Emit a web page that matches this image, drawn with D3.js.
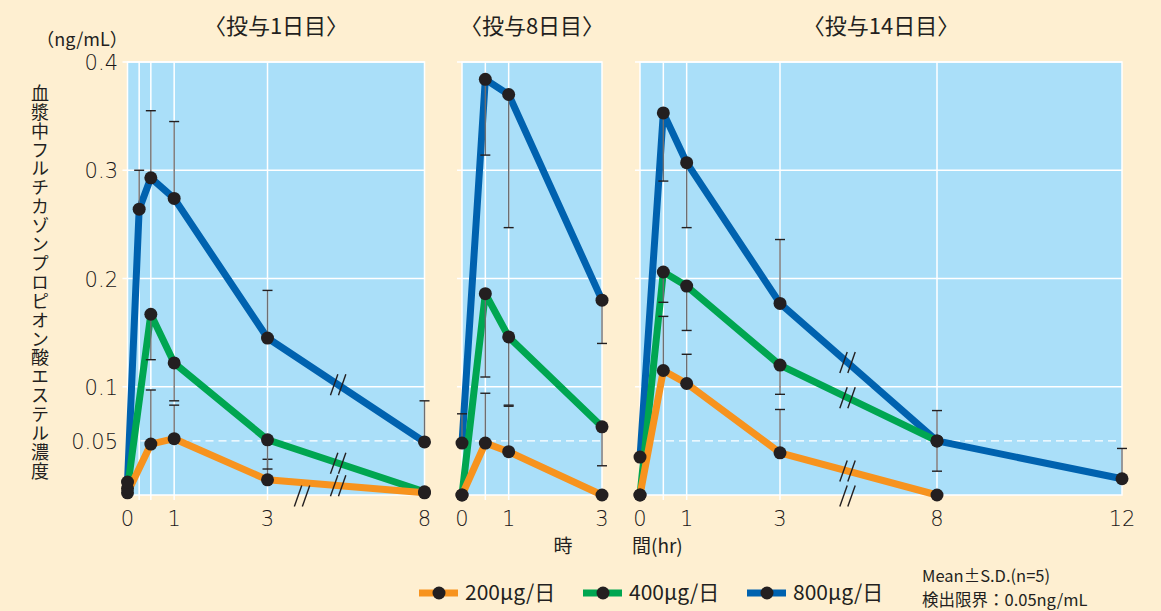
<!DOCTYPE html>
<html>
<head>
<meta charset="utf-8">
<script src="https://cdn.jsdelivr.net/npm/d3@7"></script>
<style>
  body { margin: 0; background: #feefd1; }
  svg { display: block; }
  text { font-family: "Noto Sans CJK JP", "Noto Sans", sans-serif; fill: #231f20; }
  .num { font-family: "DejaVu Sans", sans-serif; font-weight: 300; fill: #1a1718; }
</style>
</head>
<body>
<div id="chart"></div>
<script>
// ---- data ----
const dayTitles = ['〈投与1日目〉', '〈投与8日目〉', '〈投与14日目〉'];
const doseLabels = ['200μg/日', '400μg/日', '800μg/日'];
const yTicks = [0.1, 0.2, 0.3, 0.4];
const yTickLabels = ['0.05', '0.1', '0.2', '0.3', '0.4'];
const yTickLabelValues = [0.05, 0.1, 0.2, 0.3, 0.4];
const lodValue = 0.05;

// day 1
const d1Time = [0, 0.5, 1, 3, 8];
const d1Time800 = [0, 0.25, 0.5, 1, 3, 8];
const d1Mean200 = [0.002, 0.047, 0.052, 0.014, 0.002];
const d1Sd200 = [null, 0.050, 0.031, 0.019, null];
const d1Side200 = ['', 'u', 'u', 'u', ''];
const d1Mean400 = [0.006, 0.167, 0.122, 0.051, 0.003];
const d1Sd400 = [null, 0.042, 0.035, 0.027, null];
const d1Side400 = ['', 'd', 'd', 'd', ''];
const d1Mean800 = [0.012, 0.264, 0.293, 0.274, 0.145, 0.049];
const d1Sd800 = [null, 0.036, 0.062, 0.071, 0.044, 0.038];
const d1Side800 = ['', 'u', 'u', 'u', 'u', 'u'];

// day 8
const d8Time = [0, 0.5, 1, 3];
const d8Mean200 = [0, 0.048, 0.040, 0];
const d8Sd200 = [null, 0.046, 0.042, null];
const d8Side200 = ['', 'u', 'u', ''];
const d8Mean400 = [0, 0.186, 0.146, 0.063];
const d8Sd400 = [null, 0.077, 0.063, 0.036];
const d8Side400 = ['', 'd', 'd', 'd'];
const d8Mean800 = [0.048, 0.384, 0.370, 0.180];
const d8Sd800 = [0.027, 0.070, 0.123, 0.040];
const d8Side800 = ['u', 'd', 'd', 'd'];

// day 14
const d14Time = [0, 0.5, 1, 3, 8];
const d14Time800 = [0, 0.5, 1, 3, 8, 12];
const d14Mean200 = [0, 0.115, 0.103, 0.039, 0];
const d14Sd200 = [null, 0.050, 0.027, 0.040, null];
const d14Side200 = ['', 'u', 'u', 'u', ''];
const d14Mean400 = [0, 0.206, 0.193, 0.120, 0.050];
const d14Sd400 = [null, 0.028, 0.041, 0.027, null];
const d14Side400 = ['', 'd', 'd', 'd', ''];
const d14Mean800 = [0.035, 0.353, 0.307, 0.177, 0.050, 0.015];
const d14Sd800 = [null, 0.063, 0.060, 0.059, 0.028, 0.028];
const d14Side800 = ['', 'd', 'd', 'u', 'b', 'u'];

const doseColors = ['#f7931e', '#00a651', '#0062af'];

// ---- layout ----
const W = 1161, H = 611;
const svg = d3.select('#chart').append('svg').attr('width', W).attr('height', H);
svg.append('rect').attr('width', W).attr('height', H).attr('fill', '#feefd1');

const y = d3.scaleLinear().domain([0, 0.4]).range([495, 62]);

// time axis is linear up to 3 h, compressed between 3 and 8 h (axis break)
const hourOffset = v => v <= 3 ? v * 46.67 : v <= 8 ? 140 + (v - 3) * 31.4 : 297 + (v - 8) * 46.25;

const panels = [
  { title: dayTitles[0], domain: [0, 3, 8], left: 127.5, grid: [0.25, 0.5, 1, 3], ticks: [0, 1, 3, 8],
    series: [
      { t: d1Time, m: d1Mean200, sd: d1Sd200, side: d1Side200 },
      { t: d1Time, m: d1Mean400, sd: d1Sd400, side: d1Side400 },
      { t: d1Time800, m: d1Mean800, sd: d1Sd800, side: d1Side800 }],
    lineBreak: 5.25, axisBreak: 4.1 },
  { title: dayTitles[1], domain: [0, 3], left: 462, grid: [0.5, 1], ticks: [0, 1, 3],
    series: [
      { t: d8Time, m: d8Mean200, sd: d8Sd200, side: d8Side200 },
      { t: d8Time, m: d8Mean400, sd: d8Sd400, side: d8Side400 },
      { t: d8Time, m: d8Mean800, sd: d8Sd800, side: d8Side800 }] },
  { title: dayTitles[2], domain: [0, 3, 8, 12], left: 640, grid: [0.5, 1, 3, 8], ticks: [0, 1, 3, 8, 12],
    series: [
      { t: d14Time, m: d14Mean200, sd: d14Sd200, side: d14Side200 },
      { t: d14Time, m: d14Mean400, sd: d14Sd400, side: d14Side400 },
      { t: d14Time800, m: d14Mean800, sd: d14Sd800, side: d14Side800 }],
    lineBreak: 5.15, axisBreak: 5.15 }
];

const slash = (g, cx, cy) => {
  [-4, 4].forEach(dx => {
    g.append('line')
      .attr('x1', cx + dx - 3.7).attr('y1', cy + 10.5)
      .attr('x2', cx + dx + 3.7).attr('y2', cy - 10.5)
      .attr('stroke', '#231f20').attr('stroke-width', 1.4);
  });
};

panels.forEach(p => {
  const x = d3.scaleLinear().domain(p.domain).range(p.domain.map(v => p.left + hourOffset(v)));
  const x0 = x(0), x1 = x(p.domain[p.domain.length - 1]);
  const g = svg.append('g');

  g.append('rect')
    .attr('x', x0).attr('y', y(0.4))
    .attr('width', x1 - x0).attr('height', y(0) - y(0.4))
    .attr('fill', '#aadff9');

  // horizontal grid + small ticks to the left
  g.selectAll('.hg').data(yTicks).enter().append('line')
    .attr('x1', x0 - 5).attr('x2', x1)
    .attr('y1', d => y(d)).attr('y2', d => y(d))
    .attr('stroke', '#fff').attr('stroke-width', 1.5);

  g.append('line')
    .attr('x1', x0).attr('x2', x1)
    .attr('y1', y(lodValue)).attr('y2', y(lodValue))
    .attr('stroke', '#fff').attr('stroke-width', 1.2)
    .attr('stroke-dasharray', '8 5');

  // vertical grid with ticks below
  g.selectAll('.vg').data(p.grid).enter().append('line')
    .attr('x1', d => x(d)).attr('x2', d => x(d))
    .attr('y1', y(0.4)).attr('y2', y(0) + 5)
    .attr('stroke', '#fff').attr('stroke-width', 1.5);

  g.append('rect')
    .attr('x', x0).attr('y', y(0.4))
    .attr('width', x1 - x0).attr('height', y(0) - y(0.4))
    .attr('fill', 'none').attr('stroke', '#fff').attr('stroke-width', 1.5);

  // x tick labels
  g.selectAll('.xl').data(p.ticks).enter().append('text')
    .attr('class', 'num')
    .attr('x', d => x(d)).attr('y', 526)
    .attr('text-anchor', 'middle')
    .style('font-size', '21px')
    .text(d => d);

  g.append('text')
    .attr('x', (x0 + x1) / 2).attr('y', 34)
    .attr('text-anchor', 'middle')
    .style('font-size', '22px')
    .text(p.title);

  const line = d3.line().x(d => x(d[0])).y(d => y(d[1]));

  // lines, 800 first so lower doses sit on top
  [2, 1, 0].forEach(i => {
    const s = p.series[i];
    g.append('path')
      .datum(s.t.map((t, k) => [t, s.m[k]]))
      .attr('d', line)
      .attr('fill', 'none')
      .attr('stroke', doseColors[i])
      .attr('stroke-width', 7)
      .attr('stroke-linejoin', 'round');
  });

  // break marks on the lines and on the axis
  if (p.lineBreak) {
    p.series.forEach(s => {
      const k = s.t.indexOf(3), k2 = s.t.indexOf(8);
      if (k < 0 || k2 < 0) return;
      const f = (p.lineBreak - 3) / 5;
      const v = s.m[k] + (s.m[k2] - s.m[k]) * f;
      slash(g, x(p.lineBreak), y(v));
    });
    slash(g, x(p.axisBreak), y(0) + 1);
  }

  // error bars
  p.series.forEach(s => {
    s.t.forEach((t, k) => {
      if (s.sd[k] == null) return;
      const ends = [];
      if (s.side[k] === 'u' || s.side[k] === 'b') ends.push(s.m[k] + s.sd[k]);
      if (s.side[k] === 'd' || s.side[k] === 'b') ends.push(s.m[k] - s.sd[k]);
      ends.forEach(e => {
        g.append('line')
          .attr('x1', x(t)).attr('x2', x(t))
          .attr('y1', y(s.m[k])).attr('y2', y(e))
          .attr('stroke', '#6d6e71').attr('stroke-width', 1.4);
        g.append('line')
          .attr('x1', x(t) - 5).attr('x2', x(t) + 5)
          .attr('y1', y(e)).attr('y2', y(e))
          .attr('stroke', '#231f20').attr('stroke-width', 1.4);
      });
    });
  });

  // dots
  p.series.forEach(s => {
    g.selectAll(null).data(s.t.map((t, k) => [t, s.m[k]])).enter().append('circle')
      .attr('cx', d => x(d[0])).attr('cy', d => y(d[1]))
      .attr('r', 6.5).attr('fill', '#231f20');
  });
});

// y tick labels
svg.selectAll('.yl').data(yTickLabelValues).enter().append('text')
  .attr('class', 'num')
  .attr('x', 118).attr('y', d => y(d) + 8)
  .attr('text-anchor', 'end')
  .style('font-size', '21px')
  .text((d, i) => yTickLabels[i]);

svg.append('text')
  .attr('x', 82).attr('y', 46)
  .attr('text-anchor', 'middle')
  .style('font-size', '18px')
  .text('（ng/mL）');

svg.append('text')
  .attr('x', 40).attr('y', 84)
  .style('writing-mode', 'vertical-rl')
  .style('font-size', '18px')
  .attr('textLength', 396)
  .attr('lengthAdjust', 'spacing')
  .text('血漿中フルチカゾンプロピオン酸エステル濃度');

svg.append('text').attr('x', 563).attr('y', 553)
  .attr('text-anchor', 'middle').style('font-size', '19px').text('時');
svg.append('text').attr('x', 632).attr('y', 553)
  .style('font-size', '19px').text('間(hr)');

// legend
const legendX = [419, 583, 747];
doseLabels.forEach((lab, i) => {
  const lg = svg.append('g').attr('transform', `translate(${legendX[i]},593)`);
  lg.append('line').attr('x1', 0).attr('x2', 39).attr('stroke', doseColors[i]).attr('stroke-width', 7);
  lg.append('circle').attr('cx', 20).attr('r', 6.5).attr('fill', '#231f20');
  lg.append('text').attr('x', 46).attr('y', 7).style('font-size', '21px').text(lab);
});

svg.append('text').attr('x', 922).attr('y', 582).style('font-size', '16.5px').text('Mean±S.D.(n=5)');
svg.append('text').attr('x', 922).attr('y', 606).style('font-size', '16.5px').text('検出限界：0.05ng/mL');
</script>
</body>
</html>
